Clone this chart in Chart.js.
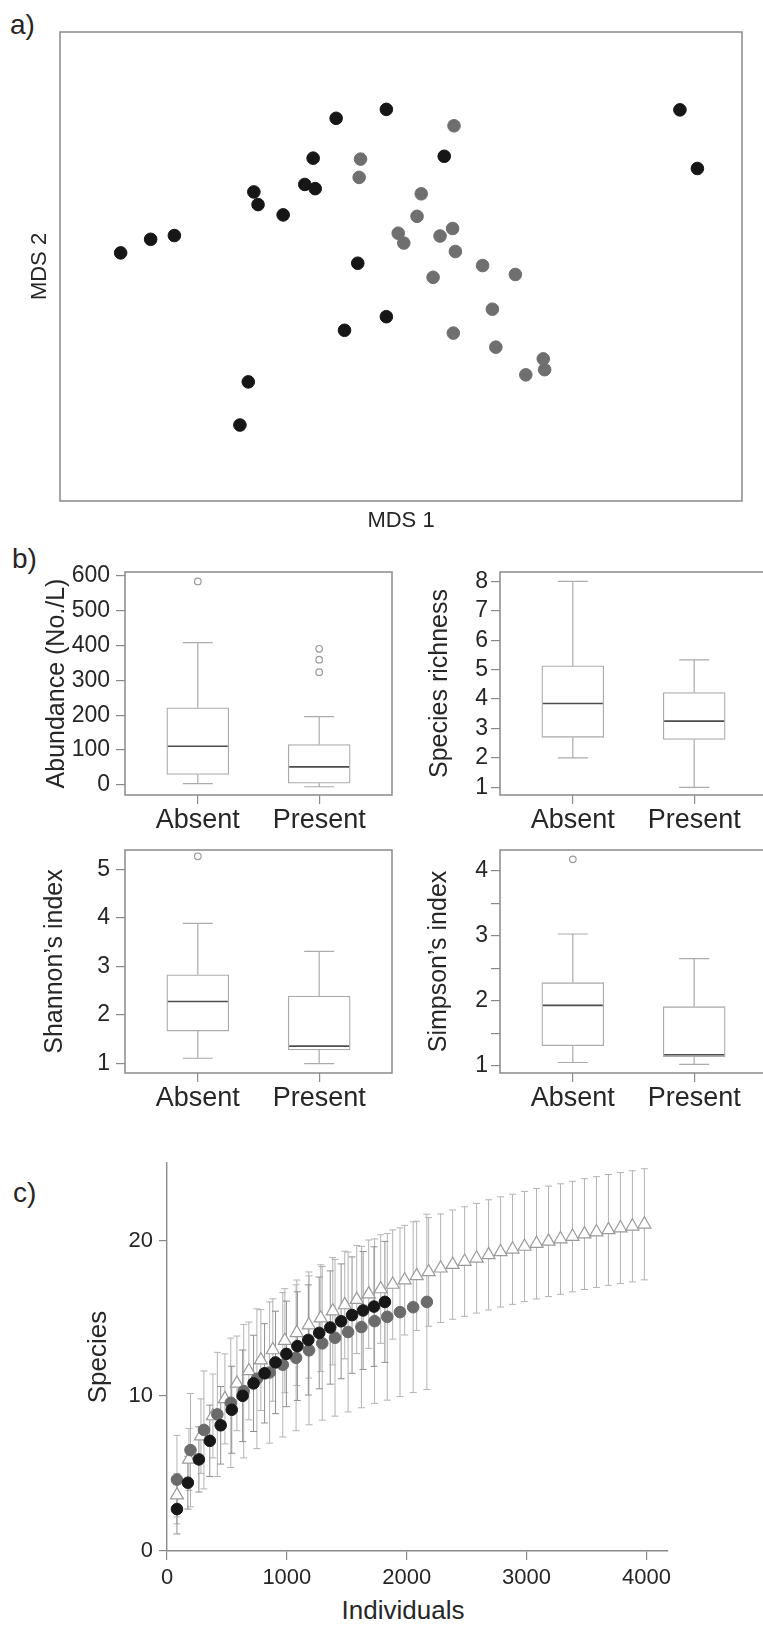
<!DOCTYPE html>
<html>
<head>
<meta charset="utf-8">
<title>MDS, diversity and rarefaction</title>
<script src="https://cdn.jsdelivr.net/npm/chart.js@4.4.1/dist/chart.umd.min.js"></script>
<style>
  html, body { margin: 0; padding: 0; background: #fff; overflow: hidden; }
  body { position: relative; width: 763px; height: 1630px; font-family: "Liberation Sans", Arial, sans-serif; color: #262626; }
  canvas { position: absolute; }
  .tag { position: absolute; font-size: 28px; line-height: 1; white-space: nowrap; }
</style>
</head>
<body>
<div class="tag" style="left:10px;top:11px">a)</div>
<div class="tag" style="left:12px;top:545px">b)</div>
<div class="tag" style="left:13px;top:1179px">c)</div>
<div class="tag" style="left:403px;top:1597px;font-size:26px;transform:translateX(-50%)">Individuals</div>

<canvas id="mds" width="763" height="540" style="left:0;top:0"></canvas>
<canvas id="abund" width="400" height="300" style="left:0;top:542px"></canvas>
<canvas id="rich" width="400" height="300" style="left:380px;top:542px"></canvas>
<canvas id="shannon" width="400" height="300" style="left:0;top:820px"></canvas>
<canvas id="simpson" width="400" height="300" style="left:380px;top:820px"></canvas>
<canvas id="rare" width="763" height="510" style="left:0;top:1120px"></canvas>

<script>
// a) MDS site scores (axis units arbitrary)
var mdsBlackX = [8.7, 13.0, 16.4, 27.8, 28.4, 32.0, 35.1, 36.3, 36.6, 39.6, 46.8, 55.1, 42.7, 40.8, 46.8, 27.0, 25.8, 88.9, 91.4];
var mdsBlackY = [52.9, 55.8, 56.6, 65.9, 63.2, 61.0, 67.5, 73.1, 66.6, 81.6, 83.5, 73.5, 50.7, 36.4, 39.3, 25.4, 16.2, 83.4, 70.9];
var mdsGreyX = [56.5, 43.1, 42.9, 51.8, 51.2, 48.5, 49.3, 56.3, 54.5, 56.7, 60.6, 53.5, 65.3, 62.0, 56.4, 62.5, 69.3, 69.5, 66.8];
var mdsGreyY = [80.0, 72.9, 69.0, 65.5, 60.7, 57.1, 55.0, 58.1, 56.5, 53.2, 50.2, 47.7, 48.3, 40.9, 35.8, 32.8, 30.3, 28.0, 26.9];

// b) box plots: [low whisker, Q1, median, Q3, high whisker]
var groups = ['Absent', 'Present'];
var abundAbsent = [4, 30, 111, 221, 408];
var abundPresent = [-5, 5, 52, 116, 196];
var abundOutliers = [[583], [323, 359, 390]];
var richAbsent = [2.0, 2.7, 3.85, 5.13, 8.0];
var richPresent = [1.0, 2.63, 3.25, 4.22, 5.33];
var richOutliers = [[], []];
var shannonAbsent = [1.11, 1.67, 2.28, 2.83, 3.89];
var shannonPresent = [1.0, 1.28, 1.36, 2.39, 3.31];
var shannonOutliers = [[5.27], []];
var simpsonAbsent = [1.05, 1.31, 1.93, 2.28, 3.03];
var simpsonPresent = [1.02, 1.14, 1.17, 1.91, 2.65];
var simpsonOutliers = [[4.18], []];

// c) rarefaction curves (mean species +/- sd)
var rareTicks = [0, 1000, 2000, 3000, 4000];
var blackN = [83, 174, 266, 357, 448, 540, 631, 722, 814, 905, 996, 1088, 1179, 1270, 1362, 1453, 1544, 1636, 1727, 1818];
var blackS = [2.7, 4.4, 5.9, 7.1, 8.1, 9.1, 10.0, 10.8, 11.45, 12.15, 12.7, 13.2, 13.6, 14.05, 14.4, 14.8, 15.2, 15.5, 15.75, 16.05];
var blackSd = [1.6, 1.7, 2.1, 2.3, 2.5, 2.8, 2.95, 3.1, 3.2, 3.3, 3.4, 3.5, 3.55, 3.6, 3.65, 3.7, 3.75, 3.8, 3.85, 3.9];
var greyN = [83, 196, 308, 420, 532, 640, 750, 856, 966, 1077, 1185, 1295, 1402, 1511, 1622, 1732, 1838, 1944, 2054, 2168];
var greyS = [4.6, 6.5, 7.8, 8.8, 9.55, 10.3, 11.1, 11.5, 12.0, 12.45, 12.93, 13.38, 13.74, 14.11, 14.43, 14.81, 15.09, 15.39, 15.71, 16.05];
var greySd = [2.85, 3.65, 3.8, 4.0, 4.17, 4.3, 4.5, 4.55, 4.65, 4.7, 4.8, 4.95, 5.05, 5.15, 5.2, 5.3, 5.37, 5.43, 5.5, 5.65];
var allN = [83, 183, 283, 383, 483, 583, 683, 783, 883, 983, 1083, 1183, 1283, 1383, 1483, 1583, 1683, 1783, 1883, 1983,
            2083, 2183, 2283, 2383, 2483, 2583, 2683, 2783, 2883, 2983, 3083, 3183, 3283, 3383, 3483, 3583, 3683, 3783, 3883, 3983];
var allS = [3.6, 5.9, 7.4, 8.7, 9.8, 10.8, 11.6, 12.3, 12.95, 13.55, 14.06, 14.56, 15.0, 15.45, 15.85, 16.2, 16.55, 16.88, 17.17, 17.45,
            17.73, 17.98, 18.22, 18.45, 18.65, 18.86, 19.08, 19.27, 19.44, 19.62, 19.8, 19.95, 20.1, 20.26, 20.42, 20.55, 20.69, 20.81, 20.92, 21.05];
var allSd = [1.4, 2.0, 2.4, 2.7, 2.9, 3.05, 3.15, 3.25, 3.3, 3.35, 3.4, 3.42, 3.44, 3.46, 3.47, 3.48, 3.49, 3.5, 3.52, 3.53,
             3.52, 3.5, 3.5, 3.52, 3.53, 3.53, 3.55, 3.55, 3.55, 3.55, 3.56, 3.56, 3.56, 3.56, 3.57, 3.57, 3.57, 3.58, 3.58, 3.58];

Chart.defaults.font.family = '"Liberation Sans", Arial, sans-serif';
Chart.defaults.color = '#262626';
Chart.defaults.animation = false;

var axisGrey = '#8a8a8a';
var boxGrey = '#ababab';

function pts(xs, ys) {
    return xs.map(function (x, i) { return {x: x, y: ys[i]}; });
}

var frame = {
    id: 'frame',
    afterDraw: function (chart) {
        var a = chart.chartArea, ctx = chart.ctx;
        ctx.save();
        ctx.strokeStyle = axisGrey;
        ctx.lineWidth = 1.5;
        ctx.strokeRect(a.left, a.top, a.right - a.left, a.bottom - a.top);
        ctx.restore();
    }
};

// whiskers, caps and median line for one box plot chart
function whiskers(stats) {
    return {
        id: 'whiskers',
        afterDatasetsDraw: function (chart) {
            var ctx = chart.ctx, xs = chart.scales.x, ys = chart.scales.y;
            ctx.save();
            stats.forEach(function (s, i) {
                var x = xs.getPixelForValue(i + 1);
                var lo = ys.getPixelForValue(s[0]), q1 = ys.getPixelForValue(s[1]);
                var md = ys.getPixelForValue(s[2]), q3 = ys.getPixelForValue(s[3]);
                var hi = ys.getPixelForValue(s[4]);
                ctx.strokeStyle = boxGrey;
                ctx.lineWidth = 1.2;
                ctx.beginPath();
                ctx.moveTo(x, q3); ctx.lineTo(x, hi);
                ctx.moveTo(x - 15, hi); ctx.lineTo(x + 15, hi);
                ctx.moveTo(x, q1); ctx.lineTo(x, lo);
                ctx.moveTo(x - 15, lo); ctx.lineTo(x + 15, lo);
                ctx.stroke();
                ctx.strokeStyle = '#4d4d4d';
                ctx.lineWidth = 1.6;
                ctx.beginPath();
                ctx.moveTo(x - 30, md); ctx.lineTo(x + 30, md);
                ctx.stroke();
            });
            ctx.restore();
        }
    };
}

function boxChart(id, stats, outliers, yMin, yMax, step, yTitle, axisW, titlePad, tickPad, minor) {
    var outPts = [];
    outliers.forEach(function (list, i) {
        list.forEach(function (v) { outPts.push({x: i + 1, y: v}); });
    });
    return new Chart(document.getElementById(id), {
        type: 'bar',
        data: {
            datasets: [{
                type: 'bar',
                data: stats.map(function (s, i) { return {x: i + 1, y: [s[1], s[3]]}; }),
                backgroundColor: '#fff',
                borderColor: boxGrey,
                borderWidth: 1.3,
                borderSkipped: false,
                barThickness: 62
            }, {
                type: 'scatter',
                data: outPts,
                pointRadius: 3.3,
                pointBorderWidth: 1.2,
                pointBorderColor: '#9a9a9a',
                pointBackgroundColor: '#fff'
            }]
        },
        options: {
            responsive: false,
            layout: { padding: { top: 30, right: 400 - 267 - axisW, left: 0, bottom: 0 } },
            plugins: { legend: { display: false }, tooltip: { enabled: false } },
            scales: {
                x: {
                    type: 'linear', min: 0.4, max: 2.6, offset: false,
                    afterBuildTicks: function (s) { s.ticks = [{value: 1}, {value: 2}]; },
                    afterFit: function (s) { s.height = 47; },
                    ticks: {
                        autoSkip: false, maxRotation: 0, padding: 0,
                        font: { size: 27 },
                        callback: function (v) { return groups[v - 1]; }
                    },
                    grid: { drawOnChartArea: false, offset: false, tickLength: 9, color: axisGrey, lineWidth: 1.2 },
                    border: { display: false }
                },
                y: {
                    type: 'linear', min: yMin, max: yMax, beginAtZero: false,
                    afterFit: function (s) { s.width = axisW; },
                    ticks: {
                        stepSize: step, includeBounds: false, padding: tickPad,
                        font: { size: 23 },
                        callback: function (v) { return (minor && !Number.isInteger(v)) ? '' : v; }
                    },
                    grid: { drawOnChartArea: false, tickLength: 9, color: axisGrey, lineWidth: 1.2 },
                    border: { display: false },
                    title: { display: true, text: yTitle, font: { size: 25 }, padding: { top: titlePad, bottom: 0 } }
                }
            }
        },
        plugins: [whiskers(stats), frame]
    });
}

// a) MDS
new Chart(document.getElementById('mds'), {
    type: 'scatter',
    data: {
        datasets: [{
            data: pts(mdsBlackX, mdsBlackY),
            pointRadius: 6.3,
            pointBackgroundColor: '#161616',
            pointBorderColor: '#161616'
        }, {
            data: pts(mdsGreyX, mdsGreyY),
            pointRadius: 6.3,
            pointBackgroundColor: '#6f6f6f',
            pointBorderColor: '#6f6f6f'
        }]
    },
    options: {
        responsive: false,
        layout: { padding: { top: 32, right: 21, left: 0, bottom: 0 } },
        plugins: { legend: { display: false }, tooltip: { enabled: false } },
        scales: {
            x: {
                min: 0, max: 97.8,
                afterFit: function (s) { s.height = 39; },
                ticks: { display: false },
                grid: { display: false },
                border: { display: false },
                title: { display: true, text: 'MDS 1', font: { size: 22 }, padding: { top: 0, bottom: 6 } }
            },
            y: {
                min: 0, max: 100,
                afterFit: function (s) { s.width = 60; },
                ticks: { display: false },
                grid: { display: false },
                border: { display: false },
                title: { display: true, text: 'MDS 2', font: { size: 22 }, padding: { top: 27, bottom: 0 } }
            }
        }
    },
    plugins: [frame]
});

// b) box plots
boxChart('abund', [abundAbsent, abundPresent], abundOutliers, -28.6, 610, 100, 'Abundance (No./L)', 125, 42, 6, false);
boxChart('rich', [richAbsent, richPresent], richOutliers, 0.74, 8.32, 1, 'Species richness', 120, 45, 3, false);
boxChart('shannon', [shannonAbsent, shannonPresent], shannonOutliers, 0.806, 5.4, 1, 'Shannon\u2019s index', 125, 40, 6, false);
boxChart('simpson', [simpsonAbsent, simpsonPresent], simpsonOutliers, 0.888, 4.324, 0.5, 'Simpson\u2019s index', 120, 44, 3, true);

// c) rarefaction with error bars
var errorBars = {
    id: 'errorBars',
    beforeDatasetsDraw: function (chart) {
        var ctx = chart.ctx, ys = chart.scales.y;
        ctx.save();
        ctx.lineWidth = 1;
        for (var i = chart.data.datasets.length - 1; i >= 0; i--) {
            var ds = chart.data.datasets[i];
            var meta = chart.getDatasetMeta(i);
            ctx.strokeStyle = ds.errorColor;
            meta.data.forEach(function (el, j) {
                var v = ds.data[j].y, e = ds.errors[j];
                var top = ys.getPixelForValue(v + e), bot = ys.getPixelForValue(v - e);
                ctx.beginPath();
                ctx.moveTo(el.x, top); ctx.lineTo(el.x, bot);
                ctx.moveTo(el.x - 3.5, top); ctx.lineTo(el.x + 3.5, top);
                ctx.moveTo(el.x - 3.5, bot); ctx.lineTo(el.x + 3.5, bot);
                ctx.stroke();
            });
        }
        ctx.restore();
    }
};

new Chart(document.getElementById('rare'), {
    type: 'scatter',
    data: {
        datasets: [{
            data: pts(blackN, blackS),
            errors: blackSd,
            errorColor: '#8f8f8f',
            pointRadius: 5.8,
            pointBackgroundColor: '#171717',
            pointBorderColor: '#171717'
        }, {
            data: pts(greyN, greyS),
            errors: greySd,
            errorColor: '#b3b3b3',
            pointRadius: 5.8,
            pointBackgroundColor: '#6b6b6b',
            pointBorderColor: '#6b6b6b'
        }, {
            data: pts(allN, allS),
            errors: allSd,
            errorColor: '#b3b3b3',
            pointStyle: 'triangle',
            pointRadius: 7.5,
            pointBorderWidth: 1.2,
            pointBackgroundColor: '#fff',
            pointBorderColor: '#9a9a9a'
        }]
    },
    options: {
        responsive: false,
        layout: { padding: { top: 43, right: 95, left: 0, bottom: 0 } },
        plugins: { legend: { display: false }, tooltip: { enabled: false } },
        scales: {
            x: {
                min: 0, max: 4180,
                afterBuildTicks: function (s) { s.ticks = rareTicks.map(function (v) { return {value: v}; }); },
                afterFit: function (s) { s.height = 79; },
                ticks: {
                    autoSkip: false, padding: 5, maxRotation: 0, font: { size: 22 },
                    callback: function (v) { return String(v); }
                },
                grid: { drawOnChartArea: false, tickLength: 9, color: axisGrey, lineWidth: 1.2 },
                border: { color: axisGrey, width: 1.4 }
            },
            y: {
                min: 0, max: 25,
                afterFit: function (s) { s.width = 167; },
                ticks: { stepSize: 10, includeBounds: false, padding: 6, font: { size: 22 } },
                grid: { drawOnChartArea: false, tickLength: 8, color: axisGrey, lineWidth: 1.2 },
                border: { color: axisGrey, width: 1.4 },
                title: { display: true, text: 'Species', font: { size: 26 }, padding: { top: 83, bottom: 0 } }
            }
        }
    },
    plugins: [errorBars]
});
</script>
</body>
</html>
